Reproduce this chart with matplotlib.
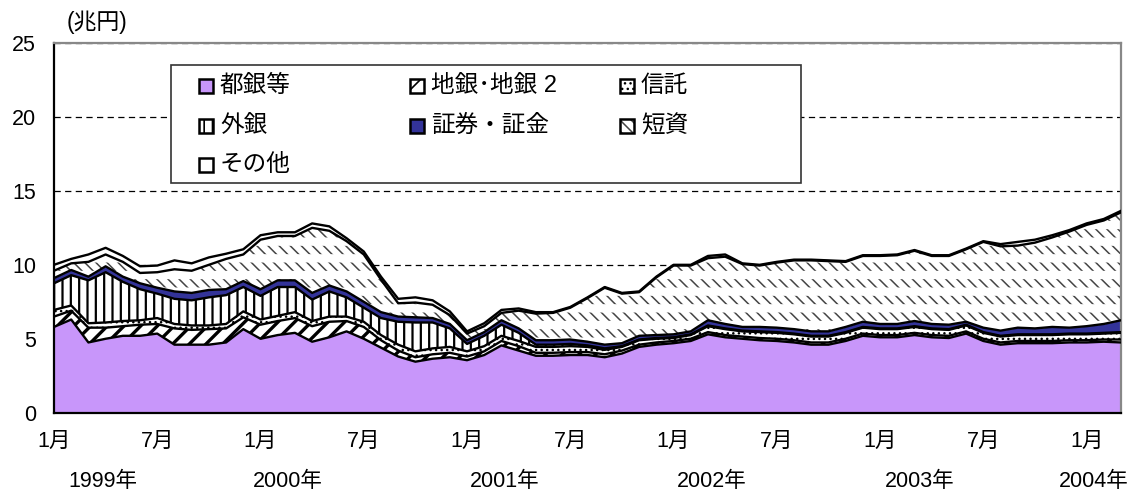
import numpy as np
import matplotlib
matplotlib.use('Agg')
import matplotlib.pyplot as plt
from matplotlib.patches import Rectangle

plt.rcParams['font.family'] = ['Liberation Sans', 'Noto Sans CJK JP']

# monthly, Jan 1999 .. Mar 2004 (trillion yen), stacked bottom -> top
toginko = [5.8, 6.3, 4.75, 5.0, 5.2, 5.2, 5.35, 4.6, 4.6, 4.6, 4.75, 5.65,
           5.0, 5.25, 5.4, 4.8, 5.1, 5.5, 5.0, 4.4, 3.8, 3.45, 3.65, 3.75,
           3.55, 3.9, 4.55, 4.2, 3.85, 3.85, 3.9, 3.9, 3.75, 4.0, 4.45, 4.6,
           4.7, 4.85, 5.3, 5.1, 5.0, 4.9, 4.85, 4.75, 4.6, 4.6, 4.85, 5.2,
           5.1, 5.1, 5.25, 5.1, 5.05, 5.35, 4.85, 4.6, 4.7, 4.7, 4.7, 4.75,
           4.75, 4.8, 4.75]
chigin = [0.7, 0.6, 1.0, 0.75, 0.65, 0.75, 0.65, 1.1, 1.0, 1.05, 0.95, 0.8,
          0.95, 0.95, 1.0, 1.05, 1.05, 0.7, 0.8, 0.5, 0.4, 0.3, 0.3, 0.3,
          0.25, 0.25, 0.3, 0.3, 0.2, 0.2, 0.2, 0.2, 0.2, 0.2, 0.15, 0.15,
          0.15, 0.15, 0.15, 0.15, 0.15, 0.15, 0.15, 0.15, 0.15, 0.15, 0.15, 0.15,
          0.15, 0.15, 0.15, 0.15, 0.15, 0.15, 0.15, 0.15, 0.15, 0.15, 0.15, 0.15,
          0.15, 0.15, 0.2]
shintaku = [0.45, 0.35, 0.3, 0.35, 0.35, 0.3, 0.4, 0.3, 0.3, 0.25, 0.3, 0.4,
            0.35, 0.35, 0.4, 0.35, 0.35, 0.3, 0.35, 0.35, 0.4, 0.4, 0.4, 0.4,
            0.35, 0.35, 0.35, 0.35, 0.4, 0.4, 0.4, 0.35, 0.3, 0.25, 0.3, 0.25,
            0.2, 0.25, 0.4, 0.4, 0.35, 0.4, 0.4, 0.4, 0.4, 0.4, 0.4, 0.4,
            0.4, 0.4, 0.4, 0.4, 0.4, 0.4, 0.4, 0.4, 0.4, 0.4, 0.4, 0.4,
            0.4, 0.4, 0.45]
gaigin = [1.8, 2.05, 2.9, 3.4, 2.65, 2.1, 1.65, 1.7, 1.7, 1.9, 1.95, 1.65,
          1.6, 1.95, 1.7, 1.45, 1.7, 1.3, 0.95, 1.15, 1.55, 1.95, 1.75, 1.25,
          0.5, 0.7, 0.75, 0.55, 0.15, 0.15, 0.15, 0.1, 0.1, 0.05, 0.05, 0.05,
          0.05, 0.05, 0.05, 0.05, 0.05, 0.05, 0.05, 0.05, 0.05, 0.05, 0.05, 0.05,
          0.05, 0.05, 0.05, 0.05, 0.05, 0.05, 0.05, 0.05, 0.05, 0.05, 0.05, 0.05,
          0.05, 0.05, 0.05]
shoken = [0.35, 0.35, 0.25, 0.4, 0.35, 0.4, 0.4, 0.5, 0.5, 0.5, 0.4, 0.4,
          0.45, 0.45, 0.45, 0.45, 0.4, 0.4, 0.4, 0.4, 0.35, 0.35, 0.3, 0.3,
          0.25, 0.25, 0.3, 0.3, 0.3, 0.3, 0.3, 0.25, 0.25, 0.2, 0.25, 0.2,
          0.2, 0.2, 0.35, 0.3, 0.25, 0.3, 0.3, 0.3, 0.3, 0.3, 0.35, 0.35,
          0.3, 0.3, 0.35, 0.3, 0.3, 0.2, 0.3, 0.35, 0.45, 0.4, 0.5, 0.4,
          0.5, 0.6, 0.8]
tanshi = [0.5, 0.45, 1.0, 0.8, 1.0, 0.7, 1.05, 1.5, 1.5, 1.7, 2.05, 1.8,
          3.35, 3.0, 3.0, 4.4, 3.7, 3.4, 3.2, 2.2, 0.9, 1.0, 0.9, 0.6,
          0.45, 0.4, 0.5, 1.2, 1.8, 1.85, 2.15, 2.95, 3.85, 3.35, 2.95, 3.9,
          4.65, 4.45, 4.2, 4.55, 4.25, 4.15, 4.4, 4.65, 4.8, 4.75, 4.4, 4.45,
          4.6, 4.65, 4.75, 4.6, 4.65, 4.9, 5.8, 5.7, 5.55, 5.8, 6.05, 6.5,
          6.85, 7.0, 7.3]
sonota = [0.4, 0.3, 0.5, 0.45, 0.4, 0.45, 0.45, 0.6, 0.5, 0.5, 0.35, 0.35,
          0.3, 0.25, 0.25, 0.3, 0.3, 0.2, 0.2, 0.2, 0.3, 0.35, 0.3, 0.25,
          0.15, 0.2, 0.2, 0.15, 0.1, 0.05, 0.05, 0.05, 0.05, 0.05, 0.05, 0.05,
          0.05, 0.05, 0.15, 0.15, 0.05, 0.05, 0.05, 0.05, 0.05, 0.05, 0.05, 0.05,
          0.05, 0.05, 0.05, 0.05, 0.05, 0.05, 0.05, 0.15, 0.25, 0.2, 0.15, 0.1,
          0.1, 0.1, 0.1]

labels = ['都銀等', '地銀･地銀 2', '信託', '外銀', '証券・証金', '短資', 'その他']
month_labels = ['1月', '7月'] * 5 + ['1月']
year_labels = ['1999年', '2000年', '2001年', '2002年', '2003年', '2004年']
year_pos = [2.85, 13.6, 26.2, 38.2, 50.3, 60.4]

# style of each layer: face, hatch, hatch colour, hatch linewidth
styles = [
    ('#c896fa', None, 'black', 1.0),
    ('white', '//', 'black', 2.4),
    ('white', '...', 'black', 1.0),
    ('white', '||', 'black', 1.6),
    ('#333399', None, 'black', 1.0),
    ('white', '\\\\\\', '#444444', 1.1),
    ('white', None, 'black', 1.0),
]

W, H = 1138, 495
fig = plt.figure(figsize=(W / 100, H / 100), dpi=100)
ax = fig.add_axes([54 / W, 82.3 / H, 1067 / W, 369.7 / H])

x = np.arange(len(toginko))
series = [toginko, chigin, shintaku, gaigin, shoken, tanshi, sonota]
tops = np.cumsum(np.array(series), axis=0)
bottoms = np.vstack([np.zeros(len(x)), tops[:-1]])


def hatched(lo, hi, face, hatch, hcolor, hlw, z):
    with plt.rc_context({'hatch.linewidth': hlw, 'hatch.color': hcolor}):
        c = ax.fill_between(x, lo, hi, facecolor=face, edgecolor=hcolor,
                            hatch=hatch, linewidth=0, zorder=z)
    try:
        c.set_hatch_linewidth(hlw)
    except AttributeError:
        pass
    return c


for i, (face, hatch, hcol, hlw) in enumerate(styles):
    hatched(bottoms[i], tops[i], face, hatch, hcol, hlw, 2)
    if i == 5:
        # break the diagonal lines into short dashes
        hatched(bottoms[i], tops[i], 'none', '-', 'white', 6.0, 2.1)

for i in range(len(series)):
    ax.plot(x, tops[i], color='black', lw=1.7, zorder=4, solid_joinstyle='round')

ax.set_xlim(0, len(x) - 1)
ax.set_ylim(0, 25)
ax.set_yticks(range(0, 26, 5))
ax.set_xticks(range(0, len(x), 6))
ax.set_xticklabels(month_labels)
ax.tick_params(axis='x', direction='in', length=6, width=1.2, pad=13, labelsize=15.5)
ax.tick_params(axis='y', length=0, pad=13, labelsize=15.5)
ax.grid(axis='y', color='black', lw=0.9, linestyle=(0, (5, 3.5)), zorder=1)
ax.set_axisbelow(True)
for s in ['left', 'bottom']:
    ax.spines[s].set_color('black')
    ax.spines[s].set_linewidth(1.6)
for s in ['top', 'right']:
    ax.spines[s].set_color('#888888')
    ax.spines[s].set_linewidth(1.6)

for lab, xp in zip(year_labels, year_pos):
    ax.text(xp, -0.187, lab, transform=ax.get_xaxis_transform(),
            ha='center', va='center', fontsize=15.5)

fig.text(97 / W, 1 - 22 / H, '(兆円)', ha='center', va='center', fontsize=16.5)

# legend box drawn by hand (row-major 3 columns)
fig.patches.append(Rectangle((171 / W, 1 - 183 / H), 630 / W, 118 / H,
                             transform=fig.transFigure, facecolor='white',
                             edgecolor='#333333', lw=1.2, zorder=5))
col_x = [199, 410, 620]
row_y = [86, 126, 165]
for k, lab in enumerate(labels):
    cx = col_x[k % 3]
    cy = row_y[k // 3]
    face, hatch, hcol, hlw = styles[k]
    with plt.rc_context({'hatch.linewidth': min(hlw, 1.2), 'hatch.color': hcol}):
        r = Rectangle((cx / W, 1 - (cy + 7) / H), 14 / W, 14 / H,
                      transform=fig.transFigure, facecolor=face,
                      edgecolor=hcol, hatch=hatch, lw=0, zorder=6)
    fig.patches.append(r)
    fig.patches.append(Rectangle((cx / W, 1 - (cy + 7) / H), 14 / W, 14 / H,
                                 transform=fig.transFigure, facecolor='none',
                                 edgecolor='black', lw=1.8, zorder=7))
    fig.text((cx + 21) / W, 1 - cy / H, lab, ha='left', va='center',
             fontsize=17, zorder=8)

fig.savefig('out.png', dpi=100)
